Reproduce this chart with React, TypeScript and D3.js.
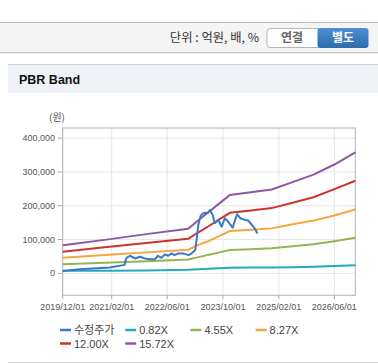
import React from "react";
import * as d3 from "d3";

const bandDates = ["2019-12-01","2020-12-01","2021-12-01","2022-12-01","2023-03-01","2023-06-01","2023-09-01","2023-12-01","2024-06-01","2024-12-01","2025-06-01","2025-12-01","2026-06-01","2026-12-01"];
const band082 = [7500, 7800, 8200, 10500, 12000, 13500, 15000, 16500, 17000, 17500, 18000, 19500, 21500, 24000];
const band455 = [26600, 31500, 36000, 41000, 48000, 55000, 62000, 69000, 71500, 74000, 80000, 86000, 95000, 105000];
const band827 = [46000, 54000, 62000, 70000, 84000, 96000, 111000, 125000, 129000, 133000, 145000, 156000, 171000, 189000];
const band1200 = [64000, 77000, 90000, 102000, 121000, 140000, 160000, 179000, 186000, 193000, 209000, 225000, 249000, 274000];
const band1572 = [83000, 99000, 116000, 132000, 157000, 182000, 207000, 232000, 240000, 248000, 270000, 292000, 322000, 358000];

const priceDates = ["2019-12-01","2020-05-01","2021-01-15","2021-05-25","2021-06-10","2021-07-10","2021-08-25","2021-10-05","2021-11-20","2022-01-05","2022-02-15","2022-03-12","2022-04-12","2022-05-12","2022-06-10","2022-07-10","2022-08-05","2022-09-05","2022-10-20","2022-12-05","2023-01-01","2023-02-01","2023-02-15","2023-02-28","2023-03-20","2023-04-12","2023-05-25","2023-06-10","2023-07-05","2023-07-22","2023-08-22","2023-09-20","2023-10-18","2023-11-15","2023-12-25","2024-02-01","2024-03-01","2024-04-10","2024-05-10","2024-06-10","2024-07-05","2024-07-28"];
const priceValues = [7000, 12000, 17000, 25000, 46000, 52000, 44000, 49000, 44000, 42000, 42000, 52000, 46000, 56000, 52000, 59000, 54000, 59000, 59000, 54000, 59000, 69000, 104000, 143000, 170000, 178000, 180000, 187000, 172000, 148000, 158000, 138000, 163000, 153000, 135000, 175000, 163000, 158000, 156000, 143000, 133000, 118000];

const yTicks = [0, 100000, 200000, 300000, 400000];
const xTickDates = ["2019-12-01","2021-02-01","2022-06-01","2023-10-01","2025-02-01","2026-06-01"];

const legendLabels = ["수정주가", "0.82X", "4.55X", "8.27X", "12.00X", "15.72X"];
const legendColors = ["#3b78c6", "#22aabf", "#93b553", "#f5a53c", "#cc3329", "#8e57a3"];

const parse = d3.timeParse("%Y-%m-%d");
const fmtDate = d3.timeFormat("%Y/%m/%d");
const fmtNum = d3.format(",");

export default function App() {
  const x = d3.scaleTime().domain([parse("2019-12-01")!, parse("2026-12-01")!]).range([62.7, 355.3]);
  const y = d3.scaleLinear().domain([-65000, 430000]).range([295.3, 128]);
  const L = x.range()[0], R = x.range()[1], T = y.range()[1], B = y.range()[0];

  const bands = [band082, band455, band827, band1200, band1572];
  const line = d3.line<[Date, number]>().x(d => x(d[0])).y(d => y(d[1]));
  const bandPaths = bands.map(vals => line(bandDates.map((d, i) => [parse(d)!, vals[i]])));
  const pricePath = line(priceDates.map((d, i) => [parse(d)!, priceValues[i]]));

  const font = "'Liberation Sans', Arial, sans-serif";
  const kfont = "'Noto Sans CJK KR', 'Liberation Sans', sans-serif";

  return (
    <svg width={378} height={364} style={{ position: "absolute", left: 0, top: 0, background: "#fff" }}>
      <defs>
        <linearGradient id="btn" x1="0" y1="0" x2="0" y2="1">
          <stop offset="0" stopColor="#4d8fd3" />
          <stop offset="1" stopColor="#2e6aae" />
        </linearGradient>
      </defs>
      {/* header bar */}
      <rect x={0} y={22} width={378} height={31} fill="#f4f4f4" />
      <line x1={0} x2={378} y1={22.5} y2={22.5} stroke="#bdbdbd" />
      <line x1={0} x2={378} y1={52.5} y2={52.5} stroke="#c4c4c4" />
      <line x1={0} x2={378} y1={53.5} y2={53.5} stroke="#e8e8e8" />
      <text x={259} y={42} textAnchor="end" fontFamily={kfont} fontSize={12.3} fill="#333">단위 : 억원, 배, %</text>
      <rect x={267} y={28.5} width={56} height={19} rx={3} fill="#fff" stroke="#b5b5b5" />
      <rect x={317.5} y={28} width={51} height={20} rx={3} fill="url(#btn)" />
      <text x={292} y={42} textAnchor="middle" fontFamily={kfont} fontSize={12} fontWeight="bold" fill="#666">연결</text>
      <text x={343} y={42} textAnchor="middle" fontFamily={kfont} fontSize={12} fontWeight="bold" fill="#fff">별도</text>

      {/* panel */}
      <rect x={8} y={64} width={370} height={29} fill="#eef1f6" />
      <line x1={8} x2={378} y1={64.5} y2={64.5} stroke="#d3d3d3" />
      <line x1={8} x2={378} y1={362.5} y2={362.5} stroke="#d6d6d6" />
      <text x={19} y={84} fontFamily={font} fontSize={12.5} fontWeight="bold" fill="#111">PBR Band</text>

      <text x={57} y={121} textAnchor="middle" fontFamily={kfont} fontSize={10} fill="#555">(원)</text>

      {/* grid */}
      {yTicks.map(t => (
        <g key={t}>
          <line x1={L} x2={R} y1={y(t)} y2={y(t)} stroke="#e6e6e6" />
          <line x1={L - 5} x2={L} y1={y(t)} y2={y(t)} stroke="#aaa" />
          <text x={55} y={y(t) + 3} textAnchor="end" fontFamily={font} fontSize={9} fill="#555">{fmtNum(t)}</text>
        </g>
      ))}
      {xTickDates.map(d => {
        const xx = x(parse(d)!);
        return (
          <g key={d}>
            <line x1={xx} x2={xx} y1={T} y2={B} stroke="#e6e6e6" />
            <line x1={xx} x2={xx} y1={B} y2={B + 4} stroke="#aaa" />
            <text x={xx} y={310} textAnchor="middle" fontFamily={font} fontSize={9} fill="#555">{fmtDate(parse(d)!)}</text>
          </g>
        );
      })}
      <rect x={L} y={T} width={R - L} height={B - T} fill="none" stroke="#b3b3b3" />

      {/* series */}
      {bandPaths.map((p, i) => (
        <path key={i} d={p || ""} fill="none" stroke={legendColors[i + 1]} strokeWidth={2} />
      ))}
      <path d={pricePath || ""} fill="none" stroke={legendColors[0]} strokeWidth={2} strokeLinejoin="round" />

      {/* legend */}
      {legendLabels.map((lab, i) => {
        const col = i % 4, row = Math.floor(i / 4);
        const lx = 60 + col * 65.2, ly = 330 + row * 13.5;
        return (
          <g key={lab}>
            <line x1={lx} x2={lx + 11} y1={ly} y2={ly} stroke={legendColors[i]} strokeWidth={2.5} />
            <text x={lx + 14} y={ly + 4} fontFamily={i === 0 ? kfont : font} fontSize={11} fill="#444">{lab}</text>
          </g>
        );
      })}
    </svg>
  );
}
